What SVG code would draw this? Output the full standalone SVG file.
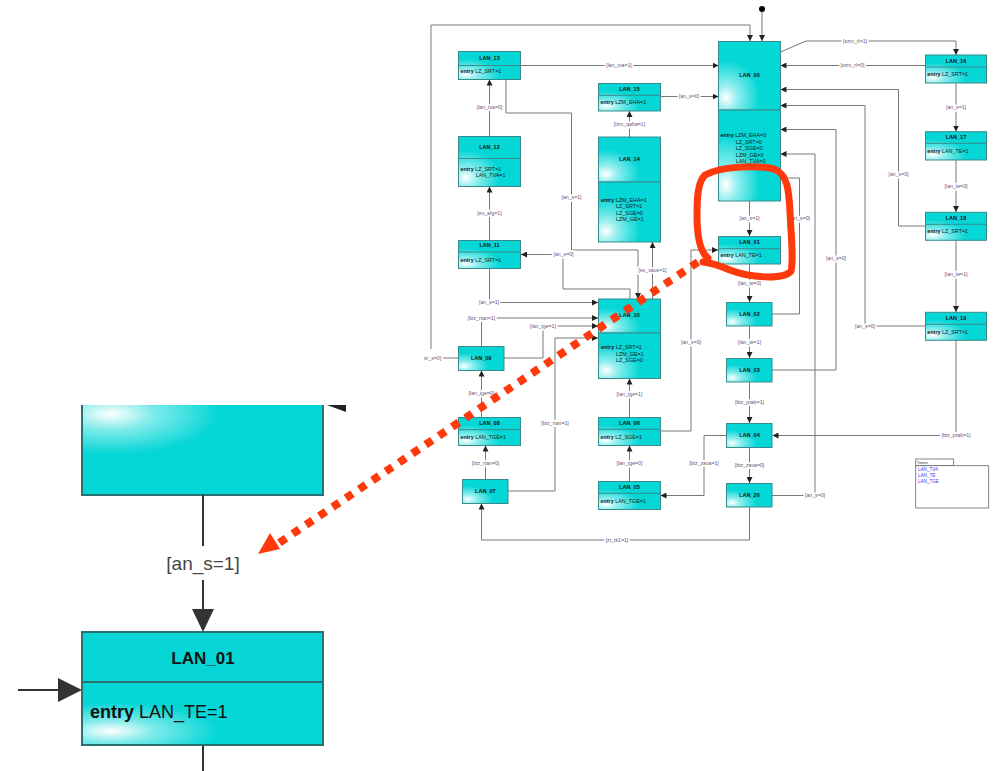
<svg xmlns="http://www.w3.org/2000/svg" width="994" height="771" viewBox="0 0 994 771">
<style>
  text { font-family: "Liberation Sans", Arial, sans-serif; }
  .n { fill: url(#cy); stroke: #3a8b8c; stroke-width: 1; }
  .dv { stroke: #3a8b8c; stroke-width: 1; }
  .t { font-size: 5.5px; font-weight: bold; text-anchor: middle; fill: #111; }
  .e { font-size: 5.4px; fill: #1a1a1a; }
  .b { font-weight: bold; }
  .c { fill: none; stroke: #787878; stroke-width: 1; }
  .ca { fill: none; stroke: #787878; stroke-width: 1; marker-end: url(#ah); }
  .l { font-size: 5.2px; fill: #6b5577; text-anchor: middle; stroke: #fff; stroke-width: 3.6px; paint-order: stroke; stroke-linejoin: round; }
  .tm { font-size: 4.6px; fill: #3c3cf0; }
  .loop { fill: none; stroke: #fe3a0c; stroke-width: 7; stroke-linecap: round; stroke-linejoin: round; }
  .dots { fill: none; stroke: #fe3a0c; stroke-width: 8; stroke-linecap: butt; stroke-dasharray: 8 8; }
  .in { fill: url(#cy2); stroke: #2c7172; stroke-width: 2; }
</style>
<defs>
  <radialGradient id="cy" cx="0.12" cy="0.82" r="0.55">
    <stop offset="0" stop-color="#ffffff"/>
    <stop offset="0.35" stop-color="#8eeeee"/>
    <stop offset="1" stop-color="#05d6d6"/>
  </radialGradient>
  <radialGradient id="cy2" cx="0.12" cy="0.78" r="0.45">
    <stop offset="0" stop-color="#ffffff"/>
    <stop offset="0.4" stop-color="#7eeaea"/>
    <stop offset="1" stop-color="#05d6d6"/>
  </radialGradient>
  <radialGradient id="cy3" cx="0.12" cy="0.1" r="0.45">
    <stop offset="0" stop-color="#ffffff"/>
    <stop offset="0.4" stop-color="#7eeaea"/>
    <stop offset="1" stop-color="#05d6d6"/>
  </radialGradient>
  <marker id="ah" viewBox="0 0 10 10" refX="10" refY="5" markerWidth="6" markerHeight="6" markerUnits="userSpaceOnUse" orient="auto">
    <path d="M0,0 L10,5 L0,10 Z" fill="#222"/>
  </marker>
</defs>
<rect width="994" height="771" fill="#fff"/>

<!-- connectors -->
<g id="connectors">
  <circle cx="762" cy="9" r="3" fill="#000"/>
  <path class="ca" d="M762,12 V41"/>
  <path class="c" d="M458,358 H443"/>
  <path class="ca" d="M431,349 V25 H750 V41"/>
  <path class="ca" d="M521,65.5 H718.5"/>
  <path class="ca" d="M506,79 V113 H571.5 V250 H638 V299"/>
  <path class="ca" d="M630,299 V289 H563 V254.5 H521"/>
  <path class="ca" d="M489.5,136.5 V79.5"/>
  <path class="ca" d="M489.5,240 V186.5"/>
  <path class="ca" d="M489.5,268.5 V302.5 H598"/>
  <path class="ca" d="M481.5,346 V318 H598"/>
  <path class="ca" d="M504,358 H543 V326 H598"/>
  <path class="ca" d="M508,491 H555 V338 H598"/>
  <path class="ca" d="M481.5,417 V370.5"/>
  <path class="ca" d="M485.5,479 V445.5"/>
  <path class="ca" d="M749.5,507 V540 H481.5 V503.5"/>
  <path class="ca" d="M629.5,137 V111"/>
  <path class="ca" d="M660.5,96.5 H718.5"/>
  <path class="ca" d="M652.5,299 V242"/>
  <path class="ca" d="M629.5,417 V378.5"/>
  <path class="ca" d="M629.5,481 V445.5"/>
  <path class="ca" d="M660.5,431 H691 V250 H718"/>
  <path class="ca" d="M749.5,201 V236"/>
  <path class="ca" d="M749.5,264 V302"/>
  <path class="ca" d="M749.5,326 V358"/>
  <path class="ca" d="M749.5,382 V423"/>
  <path class="ca" d="M749.5,447.5 V483"/>
  <path class="ca" d="M726.5,435.5 H704 V495.5 H660.5"/>
  <path class="ca" d="M772,495.5 H815 V154 H780.5"/>
  <path class="ca" d="M772,370 H836 V129.5 H780.5"/>
  <path class="ca" d="M925,326 H865 V105.5 H780.5"/>
  <path class="ca" d="M925,226 H898.5 V89.5 H780.5"/>
  <path class="ca" d="M772,314 H799.5 V178 H780.5"/>
  <path class="ca" d="M925,65.5 H780.5"/>
  <path class="ca" d="M780.5,52 L806,41 H956 V55"/>
  <path class="ca" d="M956,83 V131.5"/>
  <path class="ca" d="M956,160 V212"/>
  <path class="ca" d="M956,240 V312"/>
  <path class="ca" d="M956,340 V435.5 H772.5"/>

  <text class="l" x="432.5" y="359.8">sr_s=0]</text>
  <text class="l" x="619" y="67.3">[lan_tva=1]</text>
  <text class="l" x="571.5" y="198.8">[an_s=1]</text>
  <text class="l" x="563.5" y="256.3">[an_s=0]</text>
  <text class="l" x="489.5" y="108.8">[lan_tva=0]</text>
  <text class="l" x="489.5" y="214.8">[ex_afg=1]</text>
  <text class="l" x="489" y="304.3">[an_s=1]</text>
  <text class="l" x="481.5" y="319.8">[btz_rtan=1]</text>
  <text class="l" x="543" y="327.8">[lan_tge=1]</text>
  <text class="l" x="555" y="424.8">[btz_rtan=1]</text>
  <text class="l" x="481.5" y="394.8">[lan_tge=0]</text>
  <text class="l" x="485.5" y="464.8">[btz_rtan=0]</text>
  <text class="l" x="617" y="541.8">[zt_tk1=1]</text>
  <text class="l" x="629.5" y="125.8">[lzm_qaha=1]</text>
  <text class="l" x="689" y="98.3">[an_s=0]</text>
  <text class="l" x="652.5" y="271.8">[ex_vaus=1]</text>
  <text class="l" x="629.5" y="395.8">[lan_tge=1]</text>
  <text class="l" x="629.5" y="464.8">[lan_tge=0]</text>
  <text class="l" x="691" y="343.8">[an_s=0]</text>
  <text class="l" x="749.5" y="219.8">[an_s=1]</text>
  <text class="l" x="749.5" y="284.8">[lan_te=0]</text>
  <text class="l" x="749.5" y="343.8">[lan_te=1]</text>
  <text class="l" x="749.5" y="403.8">[btz_prab=1]</text>
  <text class="l" x="749.5" y="466.8">[btz_zava=0]</text>
  <text class="l" x="704" y="464.8">[btz_zava=1]</text>
  <text class="l" x="815" y="497.3">[an_s=0]</text>
  <text class="l" x="836" y="259.8">[an_s=0]</text>
  <text class="l" x="865" y="327.8">[an_s=0]</text>
  <text class="l" x="898.5" y="175.8">[an_s=0]</text>
  <text class="l" x="800" y="219.8">[an_s=0]</text>
  <text class="l" x="852.5" y="67.3">[szm_rl=0]</text>
  <text class="l" x="855" y="42.8">[szm_rl=1]</text>
  <text class="l" x="956" y="108.8">[an_s=1]</text>
  <text class="l" x="956" y="187.8">[lan_te=0]</text>
  <text class="l" x="956" y="275.8">[lan_te=1]</text>
  <text class="l" x="956" y="437.3">[btz_prab=1]</text>
</g>

<!-- states -->
<g id="LAN_00">
  <rect class="n" x="718.5" y="41.5" width="62" height="68.5"/>
  <rect class="n" x="718.5" y="110" width="62" height="91"/>
  <text class="t" x="749.5" y="77.3">LAN_00</text>
  <text class="e" x="720.5" y="137.3"><tspan class="b">entry</tspan> LZM_EHA=0</text>
  <text class="e" x="735.7" y="143.9">LZ_SRT=0</text>
  <text class="e" x="735.7" y="150.3">LZ_SGE=0</text>
  <text class="e" x="735.7" y="156.8">LZM_GE=0</text>
  <text class="e" x="735.7" y="163.2">LAN_TVA=0</text>
</g>
<g id="LAN_01">
  <rect class="n" x="718.5" y="236.5" width="62" height="27.5"/>
  <line class="dv" x1="718.5" y1="248.7" x2="780.5" y2="248.7"/>
  <text class="t" x="749.5" y="243.6">LAN_01</text>
  <text class="e" x="720.5" y="257.2"><tspan class="b">entry</tspan> LAN_TE=1</text>
</g>
<g id="LAN_02">
  <rect class="n" x="726.5" y="302.5" width="45.5" height="23.5"/>
  <text class="t" x="749.5" y="316">LAN_02</text>
</g>
<g id="LAN_03">
  <rect class="n" x="726.5" y="358.5" width="45.5" height="23.5"/>
  <text class="t" x="749.5" y="372">LAN_03</text>
</g>
<g id="LAN_04">
  <rect class="n" x="726.5" y="423.5" width="45.5" height="24"/>
  <text class="t" x="749.5" y="437">LAN_04</text>
</g>
<g id="LAN_20">
  <rect class="n" x="726.5" y="483.5" width="45.5" height="23.5"/>
  <text class="t" x="749.5" y="497">LAN_20</text>
</g>
<g id="LAN_05">
  <rect class="n" x="598.5" y="481.5" width="62" height="28"/>
  <line class="dv" x1="598.5" y1="493.3" x2="660.5" y2="493.3"/>
  <text class="t" x="629.5" y="489">LAN_05</text>
  <text class="e" x="600.5" y="503"><tspan class="b">entry</tspan> LAN_TGE=1</text>
</g>
<g id="LAN_06">
  <rect class="n" x="598.5" y="417.5" width="62" height="28"/>
  <line class="dv" x1="598.5" y1="429.3" x2="660.5" y2="429.3"/>
  <text class="t" x="629.5" y="424.7">LAN_06</text>
  <text class="e" x="600.5" y="438.7"><tspan class="b">entry</tspan> LZ_SGE=1</text>
</g>
<g id="LAN_07">
  <rect class="n" x="462.5" y="479.5" width="45.5" height="24"/>
  <text class="t" x="485.3" y="493">LAN_07</text>
</g>
<g id="LAN_08">
  <rect class="n" x="458.5" y="417.5" width="62" height="28"/>
  <line class="dv" x1="458.5" y1="429.7" x2="520.5" y2="429.7"/>
  <text class="t" x="489.5" y="424.7">LAN_08</text>
  <text class="e" x="460.5" y="438.7"><tspan class="b">entry</tspan> LAN_TGE=1</text>
</g>
<g id="LAN_09">
  <rect class="n" x="458.5" y="346.5" width="45.5" height="24"/>
  <text class="t" x="481.2" y="359.7">LAN_09</text>
</g>
<g id="LAN_10">
  <rect class="n" x="598.5" y="299" width="62" height="34"/>
  <rect class="n" x="598.5" y="333" width="62" height="45.5"/>
  <text class="t" x="629.5" y="317">LAN_10</text>
  <text class="e" x="601" y="349.3"><tspan class="b">entry</tspan> LZ_SRT=1</text>
  <text class="e" x="616" y="355.5">LZM_GE=1</text>
  <text class="e" x="616" y="361.8">LZ_SGE=0</text>
</g>
<g id="LAN_11">
  <rect class="n" x="458.5" y="240.5" width="62" height="28"/>
  <line class="dv" x1="458.5" y1="252" x2="520.5" y2="252"/>
  <text class="t" x="489.5" y="247.3">LAN_11</text>
  <text class="e" x="460.5" y="261.7"><tspan class="b">entry</tspan> LZ_SRT=1</text>
</g>
<g id="LAN_12">
  <rect class="n" x="458.5" y="136.5" width="62" height="50"/>
  <line class="dv" x1="458.5" y1="158.5" x2="520.5" y2="158.5"/>
  <text class="t" x="489.5" y="148.7">LAN_12</text>
  <text class="e" x="460.5" y="170.7"><tspan class="b">entry</tspan> LZ_SRT=1</text>
  <text class="e" x="475.7" y="176.7">LAN_TVA=1</text>
</g>
<g id="LAN_13">
  <rect class="n" x="458.5" y="51.5" width="62" height="28"/>
  <line class="dv" x1="458.5" y1="65.5" x2="520.5" y2="65.5"/>
  <text class="t" x="489.5" y="60">LAN_13</text>
  <text class="e" x="460.5" y="72.7"><tspan class="b">entry</tspan> LZ_SRT=1</text>
</g>
<g id="LAN_14">
  <rect class="n" x="598.5" y="137" width="62" height="45"/>
  <rect class="n" x="598.5" y="182" width="62" height="60"/>
  <text class="t" x="629.5" y="161.3">LAN_14</text>
  <text class="e" x="601" y="202"><tspan class="b">entry</tspan> LZM_EHA=1</text>
  <text class="e" x="616" y="208.3">LZ_SRT=1</text>
  <text class="e" x="616" y="214.7">LZ_SGE=0</text>
  <text class="e" x="616" y="221.3">LZM_GE=1</text>
</g>
<g id="LAN_15">
  <rect class="n" x="598.5" y="83.5" width="62" height="27.5"/>
  <line class="dv" x1="598.5" y1="95.3" x2="660.5" y2="95.3"/>
  <text class="t" x="629.5" y="90.7">LAN_15</text>
  <text class="e" x="600.5" y="104"><tspan class="b">entry</tspan> LZM_EHA=1</text>
</g>
<g id="LAN_16">
  <rect class="n" x="925.5" y="55" width="61" height="28"/>
  <line class="dv" x1="925.5" y1="67" x2="986.5" y2="67"/>
  <text class="t" x="956" y="62.7">LAN_16</text>
  <text class="e" x="927.3" y="76"><tspan class="b">entry</tspan> LZ_SRT=1</text>
</g>
<g id="LAN_17">
  <rect class="n" x="925.5" y="131.7" width="61" height="28.3"/>
  <line class="dv" x1="925.5" y1="143.3" x2="986.5" y2="143.3"/>
  <text class="t" x="956" y="139">LAN_17</text>
  <text class="e" x="927.3" y="153"><tspan class="b">entry</tspan> LAN_TE=1</text>
</g>
<g id="LAN_18">
  <rect class="n" x="925.5" y="212.3" width="61" height="28"/>
  <line class="dv" x1="925.5" y1="224.3" x2="986.5" y2="224.3"/>
  <text class="t" x="956" y="219.7">LAN_18</text>
  <text class="e" x="927.3" y="233"><tspan class="b">entry</tspan> LZ_SRT=1</text>
</g>
<g id="LAN_19">
  <rect class="n" x="925.5" y="312.3" width="61" height="28"/>
  <line class="dv" x1="925.5" y1="324.3" x2="986.5" y2="324.3"/>
  <text class="t" x="956" y="319.7">LAN_19</text>
  <text class="e" x="927.3" y="333.7"><tspan class="b">entry</tspan> LZ_SRT=1</text>
</g>

<!-- timers list -->
<g id="Timers">
  <rect x="915.7" y="459" width="38" height="6.7" fill="#fff" stroke="#666" stroke-width="0.8"/>
  <text x="916.8" y="464" style="font-size:3.8px;fill:#333">Timers</text>
  <rect x="915.7" y="465.7" width="73" height="42.3" fill="#fff" stroke="#666" stroke-width="0.8"/>
  <text class="tm" x="918" y="471">LAN_TVA</text>
  <text class="tm" x="918" y="477">LAN_TE</text>
  <text class="tm" x="918" y="482.7">LAN_TGE</text>
</g>

<!-- red highlight loop and dotted pointer -->
<g id="highlight">
  <path class="loop" d="M708,258 C700,252 697,236 697,215 C697,196 698,182 705,175 C722,166 758,165 774,169 C788,174 789,192 790,212 C791,236 794,260 791,271 C784,280 750,278 730,270 C718,265 711,263 703,262"/>
  <path class="dots" d="M698,262 L276,545"/>
  <polygon points="258,554 280,549 270,533" fill="#fe3a0c"/>
</g>

<!-- magnified detail of LAN_00 -> LAN_01 -->
<g id="detail_LAN_00">
  <rect x="82" y="405" width="241" height="90" fill="url(#cy3)"/>
  <path d="M82,405 V495 H323 V405" fill="none" stroke="#2c7172" stroke-width="2"/>
  <polygon points="327,405 346,405 346,412" fill="#222"/>
</g>
<g id="detail_connectors">
  <line x1="203" y1="495" x2="203" y2="546" stroke="#333" stroke-width="2"/>
  <text x="203" y="570" style="font-size:19px;fill:#444;text-anchor:middle">[an_s=1]</text>
  <line x1="203" y1="580" x2="203" y2="612" stroke="#333" stroke-width="2"/>
  <polygon points="192,609 214,609 203,632" fill="#333"/>
  <line x1="18" y1="690" x2="60" y2="690" stroke="#333" stroke-width="2"/>
  <polygon points="58,678 58,702 82,690" fill="#333"/>
  <line x1="203" y1="745" x2="203" y2="771" stroke="#333" stroke-width="2"/>
</g>
<g id="detail_LAN_01">
  <rect class="in" x="82" y="632" width="241" height="50" style="fill:#08d5d5"/>
  <rect class="in" x="82" y="682" width="241" height="63"/>
  <text x="203" y="664" style="font-size:17px;font-weight:bold;fill:#111;text-anchor:middle">LAN_01</text>
  <text x="90" y="718" style="font-size:18px;fill:#111"><tspan style="font-weight:bold">entry</tspan> LAN_TE=1</text>
</g>
</svg>
